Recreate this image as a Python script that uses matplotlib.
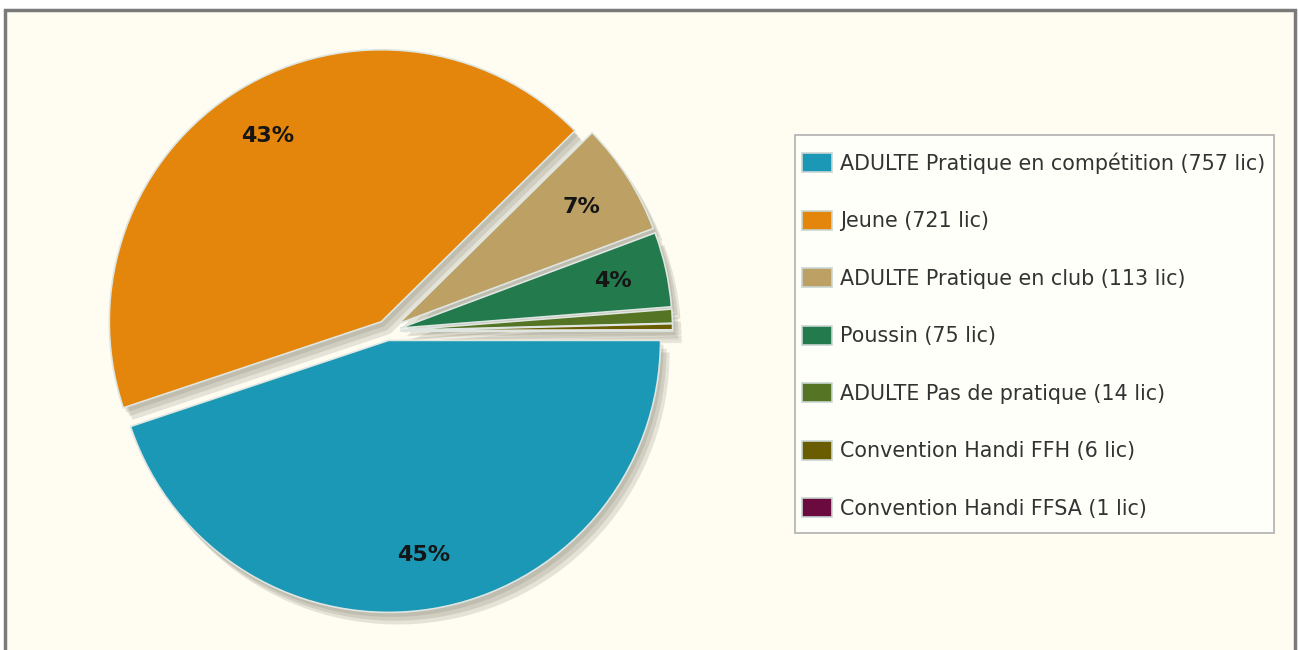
import matplotlib
matplotlib.use("Agg")
import matplotlib.pyplot as plt
import matplotlib.patches as mpatches

# data
names = ["ADULTE Pratique en compétition", "Jeune", "ADULTE Pratique en club",
         "Poussin", "ADULTE Pas de pratique", "Convention Handi FFH",
         "Convention Handi FFSA"]
licences = [757, 721, 113, 75, 14, 6, 1]
colors = ["#1a98b5", "#e3860b", "#bda064", "#227a4d", "#557524", "#6a5c00", "#6a0a3e"]
explode = [0.035, 0.04, 0.05, 0.05, 0.05, 0.05, 0.05]

W, H = 1299, 650
fig = plt.figure(figsize=(W / 100, H / 100), dpi=100, facecolor="white")

# cream panel with grey frame
panel = mpatches.Rectangle((5 / W, -0.01), 1290 / W, 1 - 10 / H + 0.01,
                           transform=fig.transFigure, facecolor="#fffdf2",
                           edgecolor="#7a7a7a", linewidth=2.5, zorder=-5)
fig.patches.append(panel)

# pie axes, centre ~ (387, 331) px, radius ~272 px
cx, cy, half = 387, 331, 310
ax = fig.add_axes([(cx - half) / W, (H - cy - half) / H, 2 * half / W, 2 * half / H])
ax.set_zorder(2)
ax.set_facecolor("none")
lim = half / 272

wedges, texts, autotexts = ax.pie(
    licences, colors=colors, explode=explode, startangle=0, counterclock=False,
    autopct=lambda p: f"{p:.0f}%" if p >= 2 else "", pctdistance=0.8,
    wedgeprops=dict(edgecolor="#dfe6e2", linewidth=1.2),
    textprops=dict(fontsize=16, color="#151515", fontweight="bold"),
    frame=True)

# soft drop shadow toward lower right
for w in wedges:
    for ox, oy in [(0.008, -0.012), (0.016, -0.022), (0.024, -0.032)]:
        sh = mpatches.Shadow(w, ox, oy, facecolor="#7a7664", edgecolor="none",
                             alpha=0.19, zorder=w.get_zorder() - 0.1)
        ax.add_patch(sh)

ax.set_xlim(-lim, lim)
ax.set_ylim(-lim, lim)
ax.set_aspect("equal")
ax.axis("off")

# legend box drawn separately so it can sit exactly where the original does
box = mpatches.Rectangle((795 / W, 1 - 533 / H), (1274 - 795) / W, (533 - 135) / H,
                         transform=fig.transFigure, facecolor="#fffffa",
                         edgecolor="#b0b0b0", linewidth=1.2, zorder=1)
fig.patches.append(box)

legend_labels = [f"{n} ({v} lic)" for n, v in zip(names, licences)]
handles = [mpatches.Patch(facecolor=c, edgecolor="#c9d6d2", linewidth=1.2) for c in colors]
leg = fig.legend(handles, legend_labels, loc="upper left",
                 bbox_to_anchor=(792 / W, 1 - 142 / H), borderaxespad=0,
                 fontsize=14.9, labelspacing=1.78, handlelength=1.45, handleheight=1.05,
                 handletextpad=0.35, borderpad=0.5, frameon=False,
                 labelcolor="#333333")

fig.savefig("out.png", dpi=100, facecolor=fig.get_facecolor())
